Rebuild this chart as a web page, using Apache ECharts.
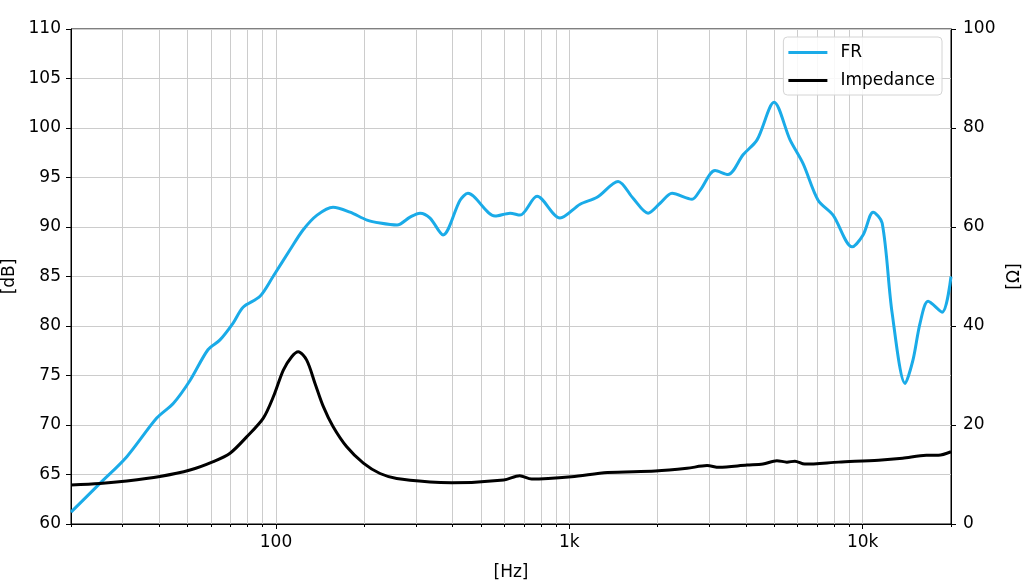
<!DOCTYPE html>
<html>
<head>
<meta charset="utf-8">
<script src="https://cdn.jsdelivr.net/npm/echarts@6/dist/echarts.min.js"></script>
<style>
  html, body { margin: 0; padding: 0; background: #fff; }
  #chart { width: 1024px; height: 583px; }
</style>
</head>
<body>
<div id="chart"></div>
<script>
    // frequency response (Hz / dB)
    var frFreq = [20, 25.1, 31, 39.2, 44.7, 50.9, 58.6, 64.4,
        71.4, 77.2, 88.2, 97.7, 111.6, 123.6, 138, 156.4, 178.7, 204.3,
        226.2, 258.5, 286.3, 309.7, 335, 371, 424, 451, 558, 628,
        679, 776, 929, 1088, 1243, 1466, 1649, 1855, 2038, 2239,
        2620, 2790, 3138, 3475, 3910, 4364, 4988, 5654, 6263, 7046,
        7925, 9200, 10030, 10850, 11650, 12600, 13950, 14850, 15690, 16710,
        18650, 20000];
    var frDb = [61.2, 64.1, 66.8, 70.7, 72.2, 74.5, 77.6, 78.6,
        80.3, 81.9, 83.0, 85.0, 87.7, 89.7, 91.2, 92.0, 91.5, 90.7,
        90.4, 90.2, 91.0, 91.4, 90.9, 89.2, 92.7, 93.4, 91.1, 91.4,
        91.2, 93.1, 90.9, 92.3, 93.0, 94.6, 92.9, 91.4, 92.4, 93.4,
        92.8, 93.7, 95.7, 95.3, 97.3, 98.8, 102.6, 98.8, 96.4, 92.7,
        91.2, 88.0, 89.2, 91.5, 90.4, 81.3, 74.2, 76.6, 80.3, 82.5,
        81.4, 85.0];

    // impedance (Hz / ohm)
    var impFreq = [20, 25.1, 31, 40.2, 50.9, 61.1, 69.7, 79.4, 90.5, 97.9,
        105.9, 113.1, 119.1, 127.2, 135.8, 145, 156.4, 174.2, 198.5, 226.2,
        257.9, 335, 397.5, 597.5, 676.9, 743.7, 1017, 1348, 1963, 2519,
        2947, 3239, 4032, 4571, 5099, 5514, 5873, 6346, 8281, 11330,
        13670, 16490, 18110, 20000];
    var impOhm = [7.9, 8.2, 8.7, 9.6, 10.9, 12.6, 14.3, 17.6, 21.4, 25.7,
        31.1, 33.8, 34.8, 33.1, 28.4, 23.7, 19.7, 15.6, 12.3, 10.2,
        9.2, 8.5, 8.35, 8.9, 9.76, 9.1, 9.56, 10.4, 10.7, 11.25,
        11.8, 11.45, 11.9, 12.1, 12.8, 12.5, 12.7, 12.1, 12.5, 12.9,
        13.3, 13.9, 13.9, 14.6];

    // x ticks (Hz)
    var majorTicks = [100, 1000, 10000];
    var majorLabels = ['100', '1k', '10k'];
    var gridTicks = [20, 30, 40, 50, 60, 70, 80, 90,
        100, 200, 300, 400, 500, 600, 700, 800, 900,
        1000, 2000, 3000, 4000, 5000, 6000, 7000, 8000, 9000,
        10000, 20000];

    var font = 'DejaVu Sans';
    var gridColor = '#cccccc';

    var chartDom = document.getElementById('chart');
    var myChart = echarts.init(chartDom, null, {renderer: 'canvas'});
    var option;

    function toLog(arr) {
        return arr.map(function (v) { return Math.log10(v); });
    }

    option = {
        animation: false,
        textStyle: {fontFamily: font},
        grid: {
            left: 71, right: 73, top: 29, bottom: 59,
            outerBoundsMode: 'none',
            containLabel: false,
            show: true, borderColor: '#000', borderWidth: 1,
            backgroundColor: 'transparent'
        },
        legend: {
            data: ['FR', 'Impedance'],
            orient: 'vertical',
            right: 82, top: 37,
            backgroundColor: 'rgba(255,255,255,0.85)',
            borderColor: '#d4d4d4', borderWidth: 1, borderRadius: 4,
            padding: [7, 7, 6, 5],
            itemWidth: 39, itemHeight: 3, itemGap: 11,
            icon: 'rect',
            textStyle: {fontFamily: font, fontSize: 17, color: '#000', padding: [0, 0, 0, 8]}
        },
        xAxis: [{
            type: 'value',
            min: Math.log10(20), max: Math.log10(20000),
            position: 'bottom',
            name: '[Hz]', nameLocation: 'middle', nameGap: 40,
            nameTextStyle: {fontFamily: font, fontSize: 17, color: '#000'},
            axisLine: {show: true, onZero: false, lineStyle: {color: '#000'}},
            axisTick: {customValues: toLog(majorTicks), length: 5, lineStyle: {color: '#000'}},
            axisLabel: {
                customValues: toLog(majorTicks), margin: 10,
                fontFamily: font, fontSize: 17, color: '#000',
                formatter: function (v) {
                    var f = Math.round(Math.pow(10, v));
                    var i = majorTicks.indexOf(f);
                    return i >= 0 ? majorLabels[i] : '';
                }
            },
            splitLine: {show: false}
        }, {
            type: 'value',
            min: Math.log10(20), max: Math.log10(20000),
            position: 'bottom', offset: 0,
            axisLine: {show: false},
            axisTick: {customValues: toLog(gridTicks), length: 3, lineStyle: {color: '#000'}},
            axisLabel: {show: false},
            splitLine: {show: true, lineStyle: {color: gridColor, width: 1}}
        }],
        yAxis: [{
            type: 'value',
            min: 60, max: 110, interval: 5,
            name: '[dB]', nameLocation: 'middle', nameGap: 50, nameRotate: 90,
            nameTextStyle: {fontFamily: font, fontSize: 17, color: '#000'},
            axisLine: {show: true, lineStyle: {color: '#000'}},
            axisTick: {show: true, length: 5, lineStyle: {color: '#000'}},
            axisLabel: {margin: 10, fontFamily: font, fontSize: 17, color: '#000'},
            splitLine: {show: true, lineStyle: {color: gridColor, width: 1}}
        }, {
            type: 'value',
            min: 0, max: 100, interval: 20,
            position: 'right',
            name: '[Ω]', nameLocation: 'middle', nameGap: 55, nameRotate: 90,
            nameTextStyle: {fontFamily: font, fontSize: 17, color: '#000'},
            axisLine: {show: true, lineStyle: {color: '#000'}},
            axisTick: {show: true, length: 5, lineStyle: {color: '#000'}},
            axisLabel: {margin: 12, fontFamily: font, fontSize: 17, color: '#000'},
            splitLine: {show: false}
        }],
        series: [{
            name: 'FR',
            type: 'line',
            xAxisIndex: 0, yAxisIndex: 0,
            data: frFreq.map(function (f, i) { return [Math.log10(f), frDb[i]]; }),
            showSymbol: false,
            smooth: 0.3,
            color: '#1aabe8',
            lineStyle: {width: 3, color: '#1aabe8'}
        }, {
            name: 'Impedance',
            type: 'line',
            xAxisIndex: 0, yAxisIndex: 1,
            data: impFreq.map(function (f, i) { return [Math.log10(f), impOhm[i]]; }),
            showSymbol: false,
            smooth: 0.3,
            color: '#000',
            lineStyle: {width: 3, color: '#000'}
        }]
    };

    option && myChart.setOption(option);
</script>
</body>
</html>
